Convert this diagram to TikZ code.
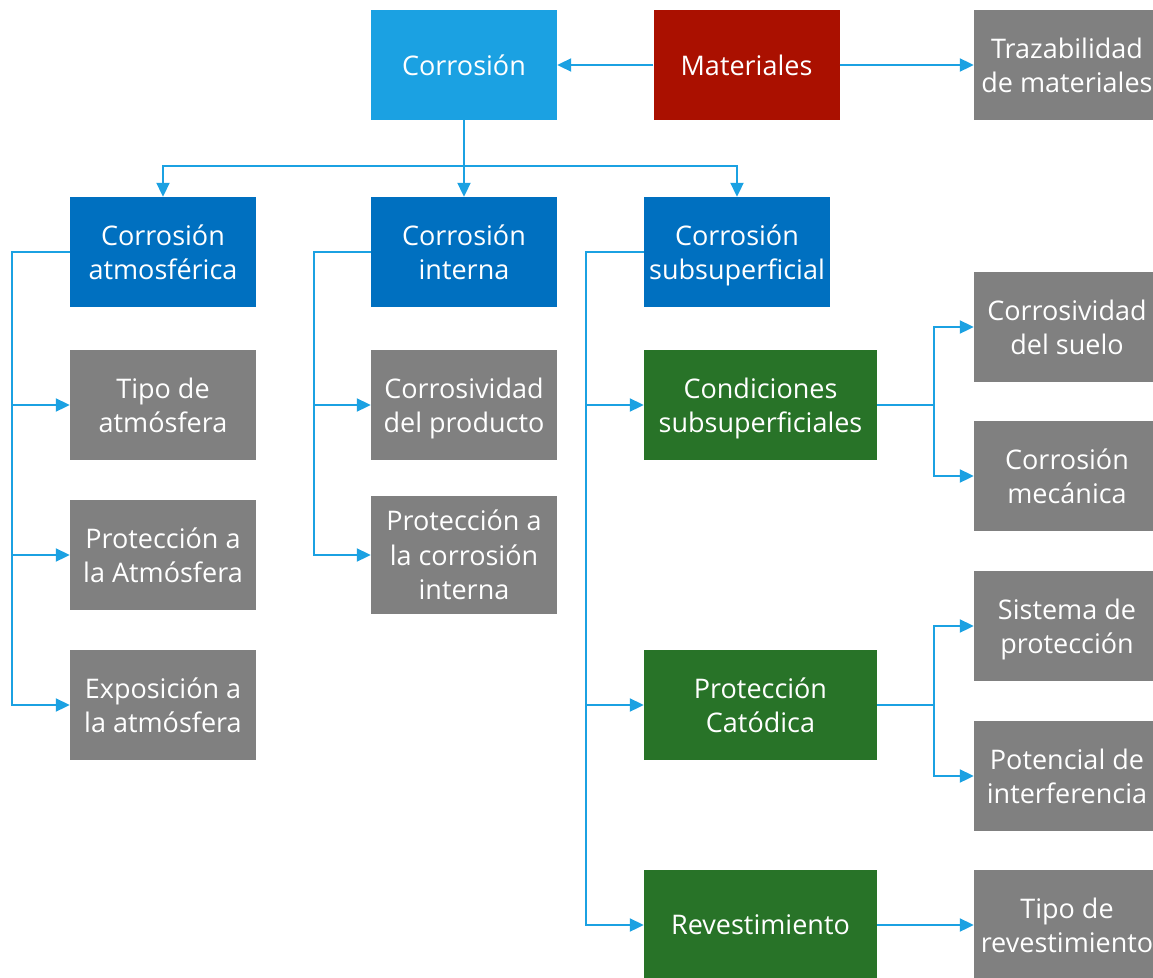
\documentclass[tikz,border=0pt]{standalone}
\usepackage{fontspec}
\setmainfont{Open Sans}
\usetikzlibrary{arrows.meta}
\definecolor{skyblue}{HTML}{1BA1E2}
\definecolor{deepblue}{HTML}{0070C0}
\definecolor{brickred}{HTML}{AA1000}
\definecolor{midgray}{HTML}{808080}
\definecolor{leafgreen}{HTML}{287328}
\tikzset{
  box/.style={draw=none, text=white, align=center, minimum width=186pt,
    minimum height=110pt, inner sep=0pt, text depth=0pt,
    font=\fontsize{27}{34.5}\selectfont},
  topbox/.style={box, fill=skyblue},
  redbox/.style={box, fill=brickred},
  bluebox/.style={box, fill=deepblue},
  graybox/.style={box, fill=midgray},
  greenbox/.style={box, fill=leafgreen, minimum width=233pt},
  link/.style={draw=skyblue, line width=2pt, -{Triangle[length=14pt,width=13pt]}},
}
\begin{document}
\begin{tikzpicture}[x=1pt, y=-1pt]
\useasboundingbox (0,0) rectangle (1153,977);
\clip (0,0) rectangle (1153,977);

% top row
\node[topbox] (cor) at (464,65) {Corrosión};
\node[redbox] (mat) at (746.5,65) {Materiales};
\node[graybox] (traz) at (1067,65) {Trazabilidad\\de materiales};

% corrosion types
\node[bluebox] (atm) at (163,252) {Corrosión\\atmosférica};
\node[bluebox] (int) at (464,252) {Corrosión\\interna};
\node[bluebox] (sub) at (737,252) {Corrosión\\subsuperficial};

% atmospheric branch
\node[graybox] (tipoatm) at (163,405) {Tipo de\\atmósfera};
\node[graybox] (protatm) at (163,555) {Protección a\\la Atmósfera};
\node[graybox] (expatm) at (163,705) {Exposición a\\la atmósfera};

% internal branch
\node[graybox] (corprod) at (464,405) {Corrosividad\\del producto};
\node[graybox, minimum height=118pt] (protint) at (464,555) {Protección a\\la corrosión\\interna};

% subsurface branch
\node[greenbox] (cond) at (760.5,405) {Condiciones\\subsuperficiales};
\node[greenbox] (catod) at (760.5,705) {Protección\\Catódica};
\node[greenbox] (rev) at (760.5,925) {Revestimiento};

\node[graybox] (suelo) at (1067,327) {Corrosividad\\del suelo};
\node[graybox] (mec) at (1067,476) {Corrosión\\mecánica};
\node[graybox] (sist) at (1067,626) {Sistema de\\protección};
\node[graybox] (pot) at (1067,776) {Potencial de\\interferencia};
\node[graybox] (tiporev) at (1067,925) {Tipo de\\revestimiento};

% connectors
\draw[link] (mat.west) -- (cor.east);
\draw[link] (mat.east) -- (traz.west);

\draw[link] (cor.south) -- ++(0,46) -| (atm.north);
\draw[link] (cor.south) -- (int.north);
\draw[link] (cor.south) -- ++(0,46) -| (sub.north);

\draw[link] (atm.west) -- ++(-58,0) |- (tipoatm.west);
\draw[link] (atm.west) -- ++(-58,0) |- (protatm.west);
\draw[link] (atm.west) -- ++(-58,0) |- (expatm.west);

\draw[link] (int.west) -- ++(-57,0) |- (corprod.west);
\draw[link] (int.west) -- ++(-57,0) |- (protint.west);

\draw[link] (sub.west) -- ++(-58,0) |- (cond.west);
\draw[link] (sub.west) -- ++(-58,0) |- (catod.west);
\draw[link] (sub.west) -- ++(-58,0) |- (rev.west);

\draw[link] (cond.east) -- ++(57,0) |- (suelo.west);
\draw[link] (cond.east) -- ++(57,0) |- (mec.west);
\draw[link] (catod.east) -- ++(57,0) |- (sist.west);
\draw[link] (catod.east) -- ++(57,0) |- (pot.west);
\draw[link] (rev.east) -- (tiporev.west);
\end{tikzpicture}
\end{document}
